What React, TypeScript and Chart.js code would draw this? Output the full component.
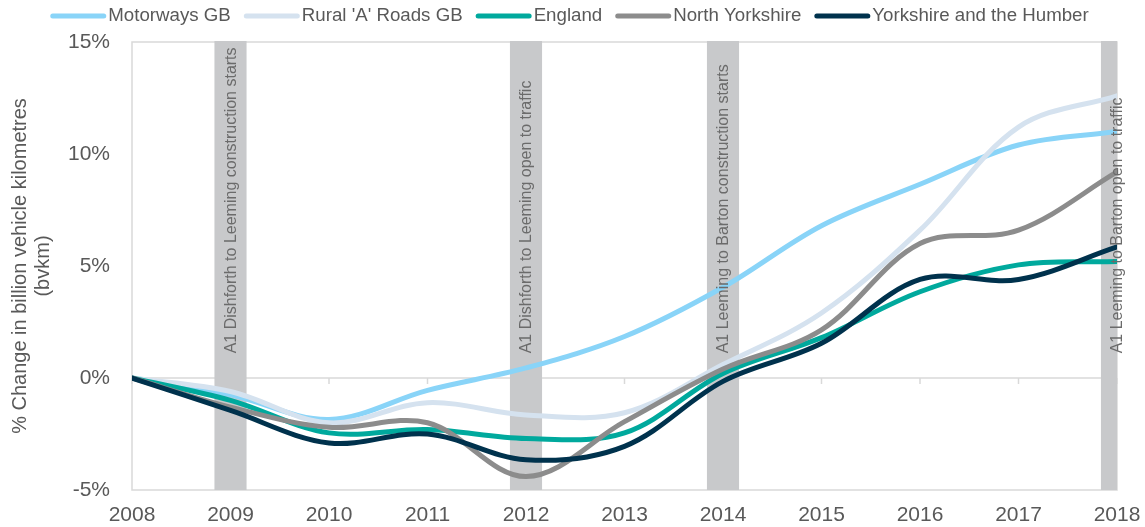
import React, { useEffect, useRef } from "react";
import { Chart, registerables } from "chart.js";

Chart.register(...registerables);

const FONT = '"Liberation Sans", Arial, Helvetica, sans-serif';

const years = [2008, 2009, 2010, 2011, 2012, 2013, 2014, 2015, 2016, 2017, 2018];
const motorwaysGB = [0, -0.75, -1.85, -0.55, 0.45, 1.85, 4.05, 6.8, 8.65, 10.4, 11.0];
const ruralARoadsGB = [0, -0.6, -2.0, -1.1, -1.65, -1.55, 0.6, 2.9, 6.6, 11.2, 12.6];
const england = [0, -1.0, -2.45, -2.3, -2.7, -2.45, 0.2, 1.8, 3.85, 5.05, 5.2];
const northYorkshire = [0, -1.3, -2.2, -2.0, -4.4, -1.95, 0.4, 2.15, 6.0, 6.6, 9.2];
const yorkshireHumber = [0, -1.45, -2.9, -2.5, -3.65, -3.05, -0.15, 1.55, 4.4, 4.4, 5.85];

const seriesNames = ["Motorways GB", "Rural 'A' Roads GB", "England", "North Yorkshire", "Yorkshire and the Humber"];
const seriesValues = [motorwaysGB, ruralARoadsGB, england, northYorkshire, yorkshireHumber];
const seriesColors = ["#89d4f8", "#d5e2ef", "#00a99d", "#8c8c8c", "#00324d"];

const bandYears = [2009, 2012, 2014, 2018];
const bandLabels = [
  "A1 Dishforth to Leeming construction starts",
  "A1 Dishforth to Leeming open to traffic",
  "A1 Leeming to Barton construction starts",
  "A1 Leeming to Barton open to traffic",
];
const bandHalfWidth = 0.163; // years
const bandTextStart = 1.1; // % value where the rotated text begins

const yAxisTitle = ["% Change in billion vehicle kilometres", "(bvkm)"];

const overlayPlugin = {
  id: "overlay",
  beforeDatasetsDraw(chart: any) {
    const { ctx, chartArea: ca, scales } = chart;
    const x = scales.x;
    const y = scales.y;
    ctx.save();
    ctx.strokeStyle = "#d9d9d9";
    ctx.lineWidth = 1.5;
    ctx.strokeRect(ca.left, ca.top, ca.right - ca.left, ca.bottom - ca.top);
    const y0 = y.getPixelForValue(0);
    ctx.beginPath();
    ctx.moveTo(ca.left, y0);
    ctx.lineTo(ca.right, y0);
    years.forEach((yr) => {
      const px = x.getPixelForValue(yr);
      ctx.moveTo(px, y0);
      ctx.lineTo(px, y0 + 6);
    });
    ctx.stroke();
    ctx.beginPath();
    ctx.rect(ca.left, ca.top - 1, ca.right - ca.left, ca.bottom - ca.top + 1);
    ctx.clip();
    ctx.fillStyle = "#c8c9cb";
    bandYears.forEach((b) => {
      const l = x.getPixelForValue(b - bandHalfWidth);
      const r = x.getPixelForValue(b + bandHalfWidth);
      ctx.fillRect(l, ca.top - 1, r - l, ca.bottom - ca.top + 1);
    });
    ctx.restore();
  },
  afterDatasetsDraw(chart: any) {
    const { ctx, scales } = chart;
    const x = scales.x;
    const y = scales.y;
    ctx.save();
    ctx.font = `16px ${FONT}`;
    ctx.fillStyle = "#6b6b6b";
    ctx.textAlign = "left";
    ctx.textBaseline = "middle";
    bandYears.forEach((b, i) => {
      ctx.save();
      ctx.translate(x.getPixelForValue(b) + 1, y.getPixelForValue(bandTextStart));
      ctx.rotate(-Math.PI / 2);
      ctx.fillText(bandLabels[i], 0, 0);
      ctx.restore();
    });
    ctx.restore();
  },
  afterDraw(chart: any) {
    const { ctx, width } = chart;
    ctx.save();
    ctx.font = `18.7px ${FONT}`;
    const swatch = 56;
    const gap = 2;
    const itemGap = 13;
    const widths = seriesNames.map((n) => ctx.measureText(n).width);
    const total = widths.reduce((a, w) => a + swatch + gap + w, 0) + itemGap * (seriesNames.length - 1);
    let cx = (width - total) / 2 - 3;
    const cy = 16;
    seriesNames.forEach((n, i) => {
      ctx.strokeStyle = seriesColors[i];
      ctx.lineWidth = 5;
      ctx.lineCap = "round";
      ctx.beginPath();
      ctx.moveTo(cx + 2.5, cy);
      ctx.lineTo(cx + swatch - 2.5, cy);
      ctx.stroke();
      ctx.fillStyle = "#595959";
      ctx.textAlign = "left";
      ctx.textBaseline = "middle";
      ctx.fillText(n, cx + swatch + gap, cy);
      cx += swatch + gap + widths[i] + itemGap;
    });
    ctx.restore();
  },
};

export default function App() {
  const ref = useRef<HTMLCanvasElement | null>(null);
  useEffect(() => {
    if (!ref.current) return;
    Chart.defaults.font.family = FONT;
    const chart = new Chart(ref.current, {
      type: "line",
      data: {
        datasets: seriesNames.map((name, i) => ({
          label: name,
          data: seriesValues[i].map((v, j) => ({ x: years[j], y: v })),
          borderColor: seriesColors[i],
          backgroundColor: seriesColors[i],
          borderWidth: 5,
          pointRadius: 0,
          tension: 0.35,
          fill: false,
          order: seriesNames.length - i,
          borderCapStyle: "round",
        })),
      },
      options: {
        animation: false,
        responsive: false,
        layout: { padding: { top: 42, right: 28, bottom: 0, left: 0 } },
        plugins: { legend: { display: false }, tooltip: { enabled: false } },
        scales: {
          x: {
            type: "linear",
            min: 2008,
            max: 2018,
            ticks: {
              stepSize: 1,
              autoSkip: false,
              maxRotation: 0,
              callback: (v: any) => String(v),
              color: "#595959",
              font: { size: 21, family: FONT },
              padding: 13,
            },
            grid: { display: false, drawTicks: false },
            border: { display: false },
            afterFit: (s: any) => {
              s.height = 37;
              s.paddingLeft = 0;
              s.paddingRight = 0;
            },
          },
          y: {
            min: -5,
            max: 15,
            ticks: {
              stepSize: 5,
              callback: (v: any) => `${v}%`,
              color: "#595959",
              font: { size: 21, family: FONT },
              padding: 22,
            },
            grid: { display: false, drawTicks: false },
            border: { display: false },
            title: {
              display: true,
              text: yAxisTitle,
              color: "#595959",
              font: { size: 20, family: FONT, lineHeight: 1.15 },
              padding: { top: 8.5, bottom: 0 },
            },
            afterFit: (s: any) => {
              s.width = 132;
              s.paddingTop = 0;
              s.paddingBottom = 0;
            },
          },
        },
      },
      plugins: [overlayPlugin],
    });
    return () => chart.destroy();
  }, []);
  return (
    <canvas
      ref={ref}
      width={1145}
      height={527}
      style={{ position: "fixed", left: 0, top: 0, width: 1145, height: 527 }}
    />
  );
}
